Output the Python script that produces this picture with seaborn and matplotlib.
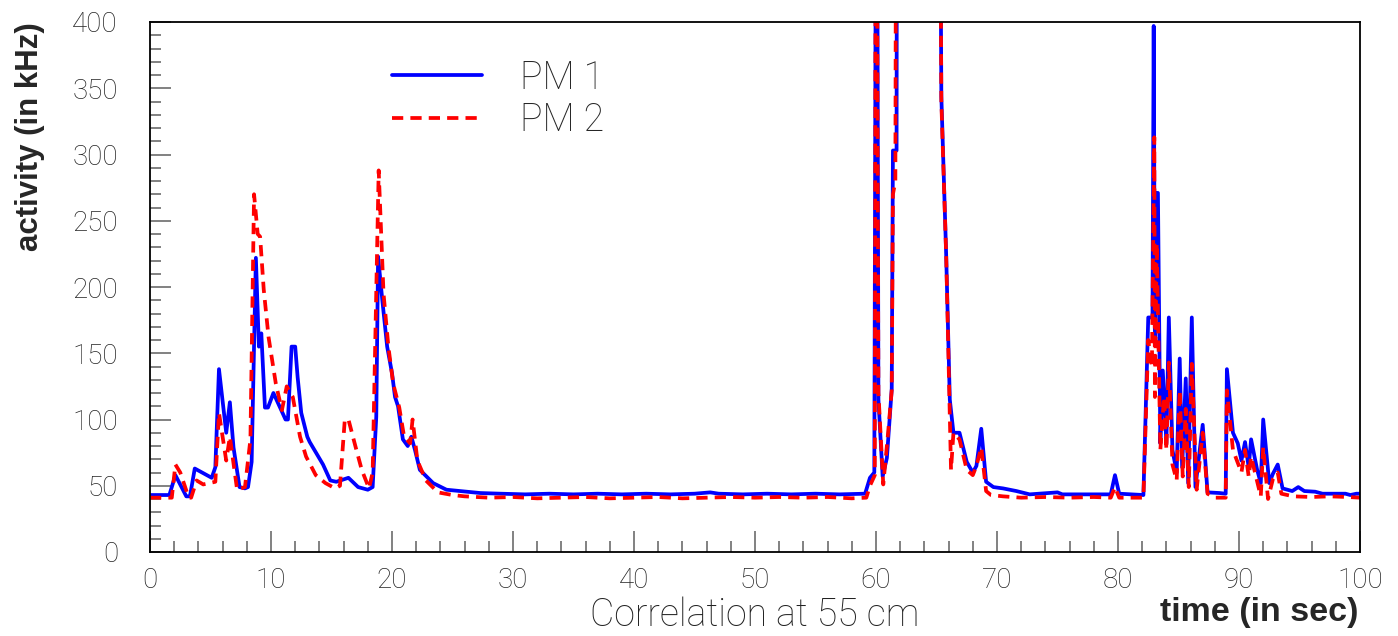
import numpy as np
import pandas as pd
import matplotlib
matplotlib.use('Agg')
import matplotlib.pyplot as plt
import seaborn as sns

# PM 1 (blue) : time in sec / activity in kHz
pm1_time = [0.0, 1.6, 2.1, 3.0, 3.3, 3.7, 4.3, 5.1, 5.4, 5.7, 6.3, 6.6, 6.9, 7.4, 7.85, 8.1, 8.4,
            8.75, 9.0, 9.2, 9.5, 9.75, 10.2, 11.2, 11.4, 11.7, 12.0, 12.2, 12.5, 13.0, 13.2, 14.3,
            14.9, 15.4, 16.4, 17.2, 18.0, 18.4, 18.7, 18.85, 19.2, 19.6, 20.0, 20.25, 20.5, 20.9,
            21.3, 21.6, 21.9, 22.3, 23.4, 24.5, 25.6, 27.3, 29, 31, 33, 35, 37, 39, 41, 43, 45,
            46.3, 47, 49, 51, 53, 55, 57, 59.1, 59.5, 59.86, 60.05, 60.2, 60.55, 60.9, 61.3, 61.4,
            61.7, 61.75, 63.5, 65.2, 65.4, 65.8, 66.1, 66.4, 66.9, 67.5, 68.0, 68.3, 68.7, 69.1,
            69.7, 70.5, 71.6, 72.7, 75.0, 75.4, 77.5, 79.4, 79.75, 80.1, 82.1, 82.5, 82.85, 82.95,
            83.05, 83.15, 83.3, 83.5, 83.7, 84.0, 84.2, 84.5, 84.85, 85.1, 85.3, 85.6, 85.8, 86.1,
            86.4, 87.0, 87.4, 88.4, 88.9, 89.0, 89.5, 89.9, 90.2, 90.5, 90.8, 91.0, 91.5, 91.8,
            92.0, 92.5, 92.8, 93.2, 93.6, 94.4, 94.9, 95.4, 96.3, 96.9, 98.8, 99.2, 99.7, 100.0]
pm1_rate = [43, 43, 58, 42, 42, 63, 60, 56, 64, 138, 90, 113, 79, 49, 48, 49, 68,
            222, 155, 165, 109, 109, 120, 100, 100, 155, 155, 132, 105, 87, 83, 66,
            54, 53, 56, 49, 47, 49, 102, 223, 190, 155, 135, 117, 110, 85,
            80, 87, 77, 62, 52, 47, 46, 44.5, 44, 43.5, 44, 43.5, 44, 43.5, 44, 43.5, 44,
            45, 44, 43.5, 44, 43.5, 44, 43.5, 44, 56, 60, 700, 115, 57, 71, 123, 303,
            303, 700, 650, 700, 344, 224, 115, 90, 90, 68, 60, 65, 93, 53,
            49, 48, 46, 43.5, 45, 43.5, 43.5, 43.5, 58, 44, 43, 177, 177, 397,
            160, 271, 271, 82, 137, 82, 177, 77, 60, 146, 64, 131, 52, 177,
            49, 96, 45, 44.5, 44, 138, 90, 82, 69, 83, 64, 85, 62, 52,
            100, 52, 59, 66, 48, 46, 49, 46, 45.5, 44, 44, 43, 44, 44]

# PM 2 (red, dashed)
pm2_time = [0.0, 1.8, 2.1, 2.5, 3.2, 3.4, 3.85, 4.4, 5.4, 5.7, 6.3, 6.6, 7.2, 7.85, 8.3, 8.6,
            8.9, 9.1, 9.4, 9.8, 10.4, 10.9, 11.3, 11.6, 11.8, 12.4, 12.9, 13.7, 14.5, 15.3, 15.7,
            16.1, 16.4, 17.0, 17.5, 18.1, 18.4, 18.9, 19.3, 19.7, 20.1, 20.6, 21.0, 21.5, 21.7,
            22.1, 22.8, 23.8, 25, 26, 28, 30, 32, 34, 36, 38, 40, 42, 44, 46, 48, 50, 52, 54,
            56, 58, 59.2, 59.5, 59.9, 60.0, 60.2, 60.6, 61.0, 61.3, 61.4, 61.6, 61.7, 63.5, 65.2,
            65.4, 65.8, 66.2, 66.4, 66.9, 67.5, 68.0, 68.3, 68.7, 69.1, 69.5, 70.5, 72, 74, 76,
            78, 79.4, 79.75, 80.1, 82.1, 82.5, 82.8, 83.0, 83.05, 83.2, 83.5, 83.8, 84.0, 84.2,
            84.5, 84.85, 85.1, 85.35, 85.6, 85.85, 86.1, 86.5, 87.0, 87.4, 88.0, 88.9, 89.0, 89.5,
            90.2, 90.5, 90.8, 91.0, 91.8, 92.0, 92.4, 92.8, 93.2, 93.5, 94.5, 96, 97.5, 99, 100.0]
pm2_rate = [41, 41, 66, 60, 41, 41, 54, 51, 53, 105, 69, 87, 47, 49, 85, 270,
            240, 238, 198, 162, 127, 107, 125, 120, 117, 87, 72, 58, 52, 48, 50,
            100, 100, 79, 62, 48, 60, 288, 195, 155, 127, 109, 87, 82, 100,
            69, 54, 45, 43, 42, 41, 41.5, 40.5, 41, 41.5, 40.5, 41, 41.5, 40.5, 41, 41.5, 41, 41.5, 41,
            41.5, 40.5, 41, 50, 58, 700, 120, 51, 90, 122, 270, 280, 700, 650, 700,
            340, 224, 62, 90, 85, 62, 58, 65, 79, 46, 43, 42, 41, 41.5, 41,
            41.5, 41, 49, 41, 41, 160, 140, 313, 117, 233, 77, 117, 77, 143,
            66, 54, 122, 57, 108, 49, 142, 47, 90, 44, 41, 41, 122, 77,
            60, 77, 57, 72, 42, 79, 40, 55, 60, 44, 42, 41.5, 42, 41.5, 41]

y_ticks = [0, 50, 100, 150, 200, 250, 300, 350, 400]
x_ticks = [0, 10, 20, 30, 40, 50, 60, 70, 80, 90, 100]

df1 = pd.DataFrame({'time': pm1_time, 'rate': pm1_rate})
df2 = pd.DataFrame({'time': pm2_time, 'rate': pm2_rate})

sns.set_style('white')
thin = ['Roboto', 'DejaVu Sans']
bold = ['Liberation Sans', 'DejaVu Sans']

fig = plt.figure(figsize=(13.98, 6.36), dpi=100)
ax = fig.add_axes([150 / 1398, 84 / 636, 1210 / 1398, 530 / 636])

sns.lineplot(data=df1, x='time', y='rate', ax=ax, sort=False, estimator=None,
             color='#0000ff', lw=2.7, label='PM 1')
sns.lineplot(data=df2, x='time', y='rate', ax=ax, sort=False, estimator=None,
             color='#ff0000', lw=2.7, linestyle=(0, (3.0, 1.9)), label='PM 2')

ax.set_xlim(0, 100)
ax.set_ylim(0, 400)
ax.set_xticks(x_ticks)
ax.set_yticks(y_ticks)
ax.set_xticks(np.arange(0, 101, 2), minor=True)
ax.set_yticks(np.arange(0, 401, 10), minor=True)
ax.tick_params(axis='both', which='both', direction='in', color='#777777', width=1.3,
               left=True, bottom=True, top=False, right=False, labelcolor='#222222')
ax.tick_params(axis='both', which='major', length=15)
ax.tick_params(axis='both', which='minor', length=8)
ax.tick_params(axis='y', pad=23)
ax.tick_params(axis='x', pad=11)
for lab in ax.get_xticklabels() + ax.get_yticklabels():
    lab.set_fontsize(20)
    lab.set_fontfamily(thin)
    lab.set_fontweight('light')
for sp in ax.spines.values():
    sp.set_color('black')
    sp.set_linewidth(1.3)
ax.set_xlabel('')
ax.set_ylabel('')

leg = ax.legend(loc='upper left', bbox_to_anchor=(0.2, 0.93), frameon=False,
                borderpad=0, borderaxespad=0, handlelength=2.4, handletextpad=1.0,
                labelspacing=0.14, prop={'family': thin, 'weight': 'light', 'size': 27})

fig.text(30 / 1398, 1 - 22 / 636, 'activity (in kHz)', rotation=90, ha='center', va='top',
         fontsize=22.5, fontweight='bold', family=bold)
fig.text(1358 / 1398, 1 - 613 / 636, 'time (in sec)', ha='right', va='center',
         fontsize=24.5, fontweight='bold', family=bold)
fig.text(755 / 1398, 1 - 615 / 636, 'Correlation at 55 cm', ha='center', va='center',
         fontsize=27, fontweight='light', family=thin, color='#222222')

fig.savefig('out.png', dpi=100)
